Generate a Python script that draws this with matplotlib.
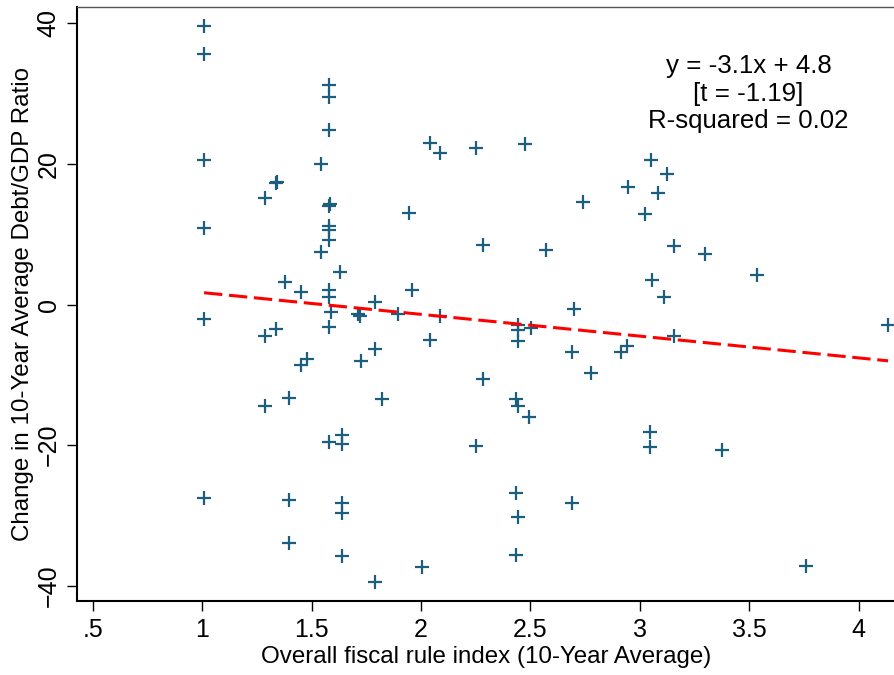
import numpy as np
import matplotlib
matplotlib.use("Agg")
import matplotlib.pyplot as plt

plt.rcParams['font.family'] = ['Liberation Sans', 'DejaVu Sans']

# fiscal rule index (10-year average) and change in debt/GDP ratio
rule_index = [1.009, 1.009, 1.009, 1.009, 1.009, 1.009,
              1.286, 1.337, 1.340, 1.378, 1.454, 1.286, 1.337, 1.454, 1.477,
              1.397, 1.286, 1.397, 1.397,
              1.579, 1.579, 1.579, 1.545, 1.579, 1.583, 1.579, 1.579, 1.579,
              1.545, 1.632, 1.579, 1.579, 1.591, 1.579, 1.579, 1.637, 1.637,
              1.637, 1.637, 1.637,
              1.713, 1.720, 1.789, 1.728, 1.792, 1.824, 1.789, 1.895, 1.959,
              1.946, 2.043, 2.089, 2.089, 2.043, 2.005,
              2.250, 2.476, 2.284, 2.250, 2.284, 2.444, 2.444, 2.444, 2.502,
              2.436, 2.444, 2.494, 2.433, 2.444, 2.433,
              2.570, 2.698, 2.692, 2.692, 2.738, 2.776, 2.916, 2.939, 2.946,
              3.024, 3.050, 3.083, 3.124, 3.057, 3.108, 3.156, 3.156, 3.045,
              3.048, 3.298, 3.374, 3.535, 3.761, 4.134]
debt_change = [39.7, 35.7, 20.6, 10.95, -2.0, -27.5,
               15.2, 17.3, 17.4, 3.2, 1.8, -4.45, -3.5, -8.6, -7.8,
               -13.3, -14.5, -27.8, -33.9,
               31.3, 29.5, 24.8, 20.05, 14.0, 14.3, 11.2, 10.6, 9.15,
               7.5, 4.6, 2.0, 1.0, -1.05, -3.2, -19.5, -18.6, -19.9,
               -28.3, -29.7, -35.8,
               -1.3, -1.7, 0.4, -8.07, -6.3, -13.5, -39.5, -1.3, 2.0,
               13.0, 23.0, 21.5, -1.7, -5.0, -37.3,
               22.3, 22.8, 8.4, -20.2, -10.6, -2.9, -3.6, -5.2, -3.3,
               -13.5, -14.5, -16.0, -26.8, -30.2, -35.7,
               7.7, -0.7, -6.8, -28.3, 14.6, -9.7, -6.7, -5.9, 16.7,
               12.9, 20.6, 15.9, 18.6, 3.55, 1.1, 8.3, -4.5, -18.1,
               -20.3, 7.2, -20.7, 4.2, -37.2, -2.9]

slope = -3.1
intercept = 4.8
t_stat = -1.19
r_squared = 0.02

x = np.array(rule_index)
y = np.array(debt_change)

fig = plt.figure(figsize=(8.94, 6.75), dpi=100)
ax = fig.add_axes([0.0865, 0.1096, 0.9135, 0.8796])

ax.plot(x, y, linestyle='none', marker='+', markersize=9.5,
        markeredgewidth=1.6, color='#1b5e7e')

xfit = np.array([x.min(), x.max()])
ax.plot(xfit, slope * xfit + intercept, color='#ff0000', linewidth=2.2,
        dashes=(6, 2.2))

ax.set_xlim(0.43, 4.161)
ax.set_ylim(-42.2, 42.3)
ax.set_xticks([0.5, 1, 1.5, 2, 2.5, 3, 3.5, 4])
ax.set_xticklabels(['.5', '1', '1.5', '2', '2.5', '3', '3.5', '4'])
ax.set_yticks([-40, -20, 0, 20, 40])
ax.tick_params(axis='both', direction='out', length=7, width=1,
               labelsize=18, pad=5)
for lab in ax.get_yticklabels():
    lab.set_rotation(90)
    lab.set_va('center')

ax.spines['left'].set_linewidth(1.5)
ax.spines['bottom'].set_linewidth(1.5)
ax.spines['top'].set_linewidth(1.0)
ax.spines['top'].set_color('#555555')
ax.spines['right'].set_visible(False)

ax.set_xlabel('Overall fiscal rule index (10-Year Average)', fontsize=17.4,
              labelpad=3)
ax.set_ylabel('Change in 10-Year Average Debt/GDP Ratio', fontsize=17.4,
              labelpad=2)

note = 'y = %.1fx + %.1f\n[t = %.2f]\nR-squared = %.2f' % (
    slope, intercept, t_stat, r_squared)
ax.text(3.497, 35.6, note, ha='center', va='top', fontsize=18.6,
        linespacing=1.17)

fig.savefig('out.png', dpi=100)
